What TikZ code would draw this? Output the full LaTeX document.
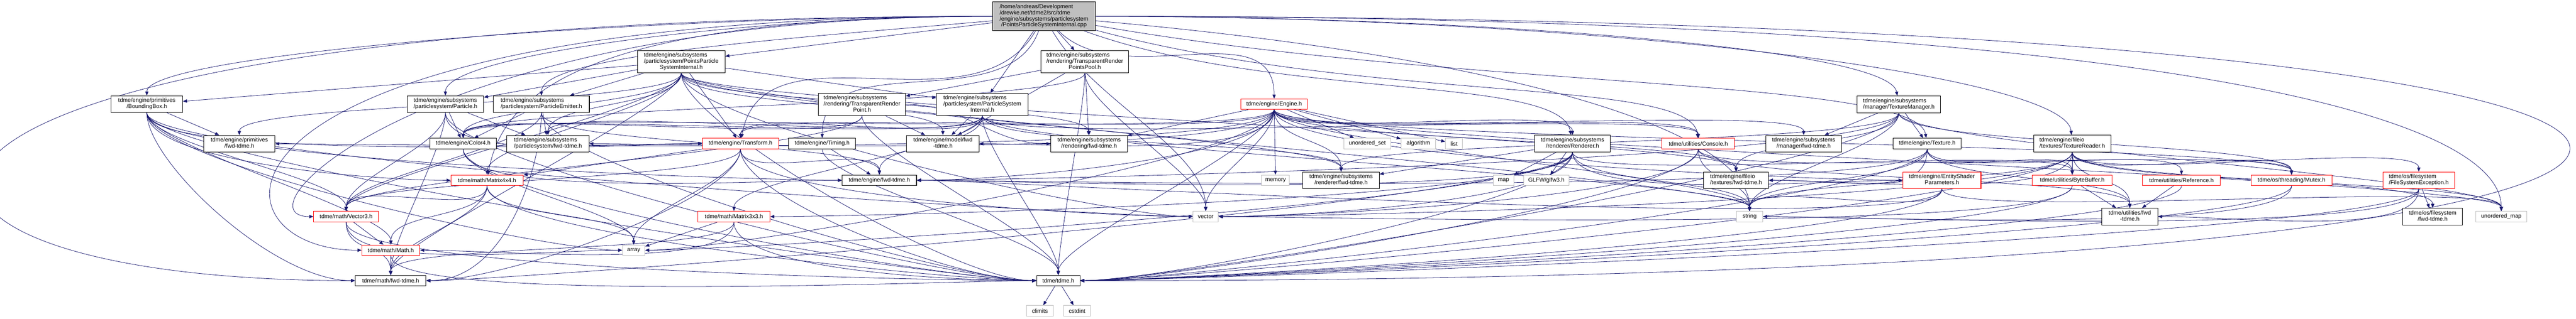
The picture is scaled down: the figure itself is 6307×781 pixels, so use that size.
\documentclass[tikz,border=0pt]{standalone}
\usepackage{fontspec}
\setmainfont{Liberation Sans}
\usetikzlibrary{arrows.meta}
\definecolor{dblue}{HTML}{191970}
\definecolor{gry}{HTML}{BFBFBF}
\definecolor{trunc}{HTML}{FF0000}
\newcommand{\nodefont}{\fontsize{1.4pt}{1.5pt}\selectfont}
\newcommand{\flab}[2]{\begin{tabular}{@{}l@{}}#1\\\multicolumn{1}{@{}c@{}}{#2}\end{tabular}}
\pgfdeclarelayer{bg}
\pgfsetlayers{bg,main}
\begin{document}
\begin{tikzpicture}[x=0.1pt,y=-0.1pt,
  hdr/.style={draw=black,fill=white,line width=0.13pt,inner sep=0pt,font=\nodefont},
  ext/.style={hdr,draw=gry},
  trc/.style={hdr,draw=trunc},
  root/.style={hdr,fill=gry},
  l1/.style={minimum height=2.6pt},
  l2/.style={minimum height=4.1pt},
  l3/.style={minimum height=5.5pt},
  l4/.style={minimum height=7pt},
  w/.style={minimum width=#1*0.1pt},
  dep/.style={draw=dblue,line width=0.1pt,-{Triangle[length=1pt,width=0.8pt]}},
  tp/.style={out=-90,in=90,out distance=8pt,in distance=8pt},
  sl/.style={out=-90,in=180,out distance=12pt,in distance=20pt},
  sr/.style={out=-90,in=0,out distance=12pt,in distance=20pt}]
\useasboundingbox (0,0) rectangle (6307,781);
\node[root,l4,w=252] (cpp) at (2556,40) {\flab{/home/andreas/Development\\/drewke.net/tdme2/src/tdme\\/engine/subsystems/particlesystem}{/PointsParticleSystemInternal.cpp}};
\node[hdr,l3,w=214] (ppsih) at (1668,151.5) {\flab{tdme/engine/subsystems\\/particlesystem/PointsParticle}{SystemInternal.h}};
\node[hdr,l3,w=214] (trpp) at (2656,151.5) {\flab{tdme/engine/subsystems\\/rendering/TransparentRender}{PointsPool.h}};
\node[hdr,l2,w=175] (bbox) at (359.5,255.5) {\flab{tdme/engine/primitives}{/BoundingBox.h}};
\node[hdr,l2,w=187] (particle) at (1090.5,255.5) {\flab{tdme/engine/subsystems}{/particlesystem/Particle.h}};
\node[hdr,l2,w=235] (emitter) at (1325.5,255.5) {\flab{tdme/engine/subsystems}{/particlesystem/ParticleEmitter.h}};
\node[hdr,l3,w=213] (trp) at (2110.5,256) {\flab{tdme/engine/subsystems\\/rendering/TransparentRender}{Point.h}};
\node[hdr,l3,w=224] (psi) at (2405,256) {\flab{tdme/engine/subsystems\\/particlesystem/ParticleSystem}{Internal.h}};
\node[trc,l1,w=163] (engine) at (3119.5,255.5) {tdme/engine/Engine.h};
\node[hdr,l2,w=204] (texmgr) at (4649,256) {\flab{tdme/engine/subsystems}{/manager/TextureManager.h}};
\node[hdr,l2,w=174] (primfwd) at (586,352.5) {\flab{tdme/engine/primitives}{/fwd-tdme.h}};
\node[hdr,l1,w=162] (color) at (1134,352) {tdme/engine/Color4.h};
\node[hdr,l2,w=201] (psfwd) at (1341.5,352.5) {\flab{tdme/engine/subsystems}{/particlesystem/fwd-tdme.h}};
\node[trc,l1,w=186] (transform) at (1813,352) {tdme/engine/Transform.h};
\node[hdr,l1,w=164] (timing) at (2013,352) {tdme/engine/Timing.h};
\node[hdr,l2,w=177] (modelfwd) at (2308.5,352.5) {\flab{tdme/engine/model/fwd}{-tdme.h}};
\node[hdr,l2,w=187] (renderingfwd) at (2666.5,352.5) {\flab{tdme/engine/subsystems}{/rendering/fwd-tdme.h}};
\node[ext,l1,w=115] (uset) at (3347.5,352) {unordered\_set};
\node[ext,l1,w=85] (algorithm) at (3472.5,352) {algorithm};
\node[ext,l1,w=42] (list) at (3560,352) {list};
\node[hdr,l2,w=186] (renderer) at (3850,352) {\flab{tdme/engine/subsystems}{/renderer/Renderer.h}};
\node[trc,l1,w=178] (console) at (4158,352) {tdme/utilities/Console.h};
\node[hdr,l2,w=186] (mgrfwd) at (4416,352.5) {\flab{tdme/engine/subsystems}{/manager/fwd-tdme.h}};
\node[hdr,l1,w=167] (texture) at (4718.5,352) {tdme/engine/Texture.h};
\node[hdr,l2,w=189] (texreader) at (5073.5,352) {\flab{tdme/engine/fileio}{/textures/TextureReader.h}};
\node[trc,l1,w=177] (matrix4) at (1192.5,442) {tdme/math/Matrix4x4.h};
\node[hdr,l1,w=182] (enginefwd) at (2153,442) {tdme/engine/fwd-tdme.h};
\node[ext,l1,w=68] (memory) at (3123,442) {memory};
\node[hdr,l2,w=187] (rendererfwd) at (3283.5,442) {\flab{tdme/engine/subsystems}{/renderer/fwd-tdme.h}};
\node[ext,l1,w=50] (map) at (3681,442) {map};
\node[ext,l1,w=110] (glfw) at (3786,442) {GLFW/glfw3.h};
\node[hdr,l2,w=159] (texfwd) at (4250.5,442) {\flab{tdme/engine/fileio}{/textures/fwd-tdme.h}};
\node[trc,l2,w=191] (esp) at (4754.5,442) {\flab{tdme/engine/EntityShader}{Parameters.h}};
\node[trc,l1,w=195] (bytebuf) at (5073.5,442) {tdme/utilities/ByteBuffer.h};
\node[trc,l1,w=190] (reference) at (5341,442) {tdme/utilities/Reference.h};
\node[trc,l1,w=199] (mutex) at (5610.5,442) {tdme/os/threading/Mutex.h};
\node[trc,l2,w=176] (fsexc) at (5922,442) {\flab{tdme/os/filesystem}{/FileSystemException.h}};
\node[trc,l1,w=159] (vector3) at (847.5,531) {tdme/math/Vector3.h};
\node[trc,l1,w=176] (matrix3) at (1797,531) {tdme/math/Matrix3x3.h};
\node[ext,l1,w=62] (vector) at (2952,531) {vector};
\node[ext,l1,w=65] (string) at (4283.5,531) {string};
\node[hdr,l2,w=137] (utilfwd) at (5214.5,531) {\flab{tdme/utilities/fwd}{-tdme.h}};
\node[hdr,l2,w=146] (fsfwd) at (5956,531) {\flab{tdme/os/filesystem}{/fwd-tdme.h}};
\node[ext,l1,w=124] (umap) at (6124,531) {unordered\_map};
\node[trc,l1,w=142] (math) at (957,613.5) {tdme/math/Math.h};
\node[ext,l1,w=55] (array) at (1551.5,613.5) {array};
\node[hdr,l1,w=173] (mathfwd) at (956.5,688) {tdme/math/fwd-tdme.h};
\node[hdr,l1,w=106] (tdmeh) at (2591,688) {tdme/tdme.h};
\node[ext,l1,w=66] (climits) at (2546,762) {climits};
\node[ext,l1,w=66] (cstdint) at (2637,762) {cstdint};
\begin{pgfonlayer}{bg}
\fill[white] (0,0) rectangle (6307,781);
\draw[dep] (cpp) -- (ppsih);
\draw[dep] (cpp) -- (trpp);
\draw[dep] (cpp) -- (psi);
\draw[dep] (cpp) to[out=-45,in=90] (engine);
\draw[dep] (cpp) to[out=180,in=90,out distance=90pt,in distance=10pt] (bbox);
\draw[dep] (cpp) to[out=180,in=90,out distance=60pt,in distance=10pt] (particle);
\draw[dep] (cpp) to[out=185,in=90,out distance=50pt,in distance=10pt] (emitter);
\draw[dep] (cpp) to[out=-120,in=80] (transform);
\draw[dep] (cpp) to[out=-110,in=90] (timing);
\draw[dep] (cpp) to[out=-20,in=100,out distance=50pt,in distance=15pt] (renderer);
\draw[dep] (cpp) to[out=0,in=100,out distance=90pt,in distance=12pt] (texmgr);
\draw[dep] (cpp) to[out=-10,in=100,out distance=90pt,in distance=15pt] (texture);
\draw[dep] (cpp) to[out=0,in=95,out distance=120pt,in distance=15pt] (texreader);
\draw[dep] (cpp) to[out=-15,in=95,out distance=70pt,in distance=15pt] (console);
\draw[dep] (cpp) to[out=180,in=80,out distance=100pt,in distance=20pt] (matrix4);
\draw[dep] (cpp) to[out=180,in=180,out distance=140pt,in distance=20pt] (vector3);
\draw[dep] (cpp) to[out=180,in=180,out distance=200pt,in distance=40pt] (math);
\draw[dep] (cpp) to[out=-5,in=90,out distance=100pt,in distance=20pt] (string);
\draw[dep] (cpp) to[out=-60,in=90,out distance=20pt,in distance=15pt] (vector);
\draw[dep] (cpp) to[out=0,in=90,out distance=250pt,in distance=25pt] (umap);
\draw[dep] (cpp) .. controls (7500,40) and (7500,690) .. (tdmeh);
\draw[dep] (cpp) .. controls (-540,40) and (-540,688) .. (mathfwd);
\draw[dep] (ppsih) -- (particle);
\draw[dep] (ppsih) -- (emitter);
\draw[dep] (ppsih) -- (psi);
\draw[dep] (ppsih) -- (bbox);
\draw[dep] (ppsih) -- (transform);
\draw[dep] (ppsih) to[tp] (primfwd);
\draw[dep] (ppsih) to[tp] (color);
\draw[dep] (ppsih) to[tp] (psfwd);
\draw[dep] (ppsih) to[tp] (modelfwd);
\draw[dep] (ppsih) to[tp] (renderingfwd);
\draw[dep] (ppsih) to[tp] (rendererfwd);
\draw[dep] (ppsih) to[tp] (texfwd);
\draw[dep] (ppsih) to[tp] (matrix4);
\draw[dep] (ppsih) to[tp] (vector3);
\draw[dep] (ppsih) to[tp] (mathfwd);
\draw[dep] (ppsih) to[sl] (vector);
\draw[dep] (ppsih) to[tp] (string);
\draw[dep] (ppsih) to[sl] (tdmeh);
\draw[dep] (trpp) -- (trp);
\draw[dep] (trpp) -- (renderingfwd);
\draw[dep] (trpp) -- (modelfwd);
\draw[dep] (trpp) to[tp] (color);
\draw[dep] (trpp) to[tp] (vector);
\draw[dep] (trpp) to[tp] (tdmeh);
\draw[dep] (bbox) -- (primfwd);
\draw[dep] (bbox) to[sl] (matrix4);
\draw[dep] (bbox) to[tp] (vector3);
\draw[dep] (bbox) to[sl] (transform);
\draw[dep] (bbox) to[sl] (enginefwd);
\draw[dep] (bbox) to[sl] (mathfwd);
\draw[dep] (bbox) to[sl] (array);
\draw[dep] (bbox) to[tp] (math);
\draw[dep] (bbox) to[sl] (vector);
\draw[dep] (bbox) to[sl] (tdmeh);
\draw[dep] (particle) -- (color);
\draw[dep] (particle) -- (psfwd);
\draw[dep] (particle) to[sl] (transform);
\draw[dep] (particle) to[tp] (vector3);
\draw[dep] (particle) to[tp] (mathfwd);
\draw[dep] (particle) to[sl] (tdmeh);
\draw[dep] (emitter) -- (color);
\draw[dep] (emitter) -- (psfwd);
\draw[dep] (emitter) to[tp] (vector3);
\draw[dep] (emitter) to[tp] (enginefwd);
\draw[dep] (emitter) to[sr] (mathfwd);
\draw[dep] (emitter) to[sl] (tdmeh);
\draw[dep] (trp) -- (modelfwd);
\draw[dep] (trp) to[out=0,in=180] (renderingfwd);
\draw[dep] (trp) to[tp] (color);
\draw[dep] (trp) to[tp] (vector3);
\draw[dep] (trp) to[tp] (tdmeh);
\draw[dep] (psi) -- (modelfwd);
\draw[dep] (psi) to[tp] (psfwd);
\draw[dep] (psi) to[tp] (color);
\draw[dep] (psi) to[tp] (rendererfwd);
\draw[dep] (psi) to[tp] (transform);
\draw[dep] (psi) to[tp] (enginefwd);
\draw[dep] (psi) to[tp] (matrix3);
\draw[dep] (psi) to[tp] (string);
\draw[dep] (psi) to[tp] (console);
\draw[dep] (psi) to[tp] (tdmeh);
\draw[dep] (engine) -- (uset);
\draw[dep] (engine) -- (algorithm);
\draw[dep] (engine) -- (list);
\draw[dep] (engine) -- (memory);
\draw[dep] (engine) -- (renderingfwd);
\draw[dep] (engine) to[tp] (renderer);
\draw[dep] (engine) to[tp] (console);
\draw[dep] (engine) to[tp] (mgrfwd);
\draw[dep] (engine) to[tp] (color);
\draw[dep] (engine) to[sr] (psfwd);
\draw[dep] (engine) to[tp] (transform);
\draw[dep] (engine) to[sr] (modelfwd);
\draw[dep] (engine) to[sr] (primfwd);
\draw[dep] (engine) to[sr] (enginefwd);
\draw[dep] (engine) to[tp] (rendererfwd);
\draw[dep] (engine) to[tp] (texfwd);
\draw[dep] (engine) to[sl] (esp);
\draw[dep] (engine) to[tp] (mutex);
\draw[dep] (engine) to[tp] (umap);
\draw[dep] (engine) to[sr] (array);
\draw[dep] (engine) to[tp] (vector);
\draw[dep] (engine) to[tp] (string);
\draw[dep] (engine) to[tp] (tdmeh);
\draw[dep] (texmgr) -- (mgrfwd);
\draw[dep] (texmgr) -- (texture);
\draw[dep] (texmgr) to[tp] (texfwd);
\draw[dep] (texmgr) to[tp] (rendererfwd);
\draw[dep] (texmgr) to[sr] (enginefwd);
\draw[dep] (texmgr) to[tp] (string);
\draw[dep] (texmgr) to[tp] (mutex);
\draw[dep] (texmgr) to[tp] (umap);
\draw[dep] (texmgr) to[sr] (tdmeh);
\draw[dep] (renderer) -- (rendererfwd);
\draw[dep] (renderer) -- (map);
\draw[dep] (renderer) -- (glfw);
\draw[dep] (renderer) to[sr] (matrix3);
\draw[dep] (renderer) to[sr] (enginefwd);
\draw[dep] (renderer) to[sr] (mathfwd);
\draw[dep] (renderer) to[sr] (array);
\draw[dep] (renderer) to[sl] (esp);
\draw[dep] (renderer) to[tp] (bytebuf);
\draw[dep] (renderer) to[sr] (vector);
\draw[dep] (renderer) to[tp] (string);
\draw[dep] (renderer) to[sr] (tdmeh);
\draw[dep] (console) to[tp] (string);
\draw[dep] (console) to[sr] (vector);
\draw[dep] (console) to[tp] (utilfwd);
\draw[dep] (console) to[tp] (mutex);
\draw[dep] (console) to[sr] (tdmeh);
\draw[dep] (texture) to[sr] (texfwd);
\draw[dep] (texture) to[tp] (bytebuf);
\draw[dep] (texture) to[tp] (reference);
\draw[dep] (texture) to[sr] (enginefwd);
\draw[dep] (texture) to[tp] (string);
\draw[dep] (texture) to[tp] (utilfwd);
\draw[dep] (texture) to[sr] (tdmeh);
\draw[dep] (texreader) -- (bytebuf);
\draw[dep] (texreader) to[sr] (texfwd);
\draw[dep] (texreader) to[tp] (mutex);
\draw[dep] (texreader) to[tp] (fsexc);
\draw[dep] (texreader) to[tp] (umap);
\draw[dep] (texreader) to[tp] (fsfwd);
\draw[dep] (texreader) to[tp] (utilfwd);
\draw[dep] (texreader) to[tp] (string);
\draw[dep] (texreader) to[sr] (vector);
\draw[dep] (texreader) to[sr] (tdmeh);
\draw[dep] (color) to[tp] (array);
\draw[dep] (color) to[sl] (enginefwd);
\draw[dep] (color) to[sl] (tdmeh);
\draw[dep] (transform) -- (matrix4);
\draw[dep] (transform) to[tp] (vector3);
\draw[dep] (transform) to[tp] (enginefwd);
\draw[dep] (transform) to[tp] (array);
\draw[dep] (transform) to[sr] (mathfwd);
\draw[dep] (transform) to[sl] (vector);
\draw[dep] (transform) to[sl] (tdmeh);
\draw[dep] (timing) -- (enginefwd);
\draw[dep] (timing) to[tp] (tdmeh);
\draw[dep] (matrix4) to[tp] (vector3);
\draw[dep] (matrix4) to[tp] (math);
\draw[dep] (matrix4) to[tp] (mathfwd);
\draw[dep] (matrix4) to[tp] (array);
\draw[dep] (matrix4) to[sl] (tdmeh);
\draw[dep] (esp) to[tp] (string);
\draw[dep] (esp) to[tp] (umap);
\draw[dep] (esp) to[sr] (tdmeh);
\draw[dep] (esp) to[sr] (enginefwd);
\draw[dep] (bytebuf) -- (utilfwd);
\draw[dep] (bytebuf) to[sr] (vector);
\draw[dep] (bytebuf) to[sr] (tdmeh);
\draw[dep] (reference) -- (utilfwd);
\draw[dep] (reference) to[sr] (tdmeh);
\draw[dep] (mutex) to[sr] (tdmeh);
\draw[dep] (mutex) to[sr] (string);
\draw[dep] (fsexc) to[sr] (utilfwd);
\draw[dep] (fsexc) -- (fsfwd);
\draw[dep] (fsexc) to[sr] (tdmeh);
\draw[dep] (fsexc) to[sr] (string);
\draw[dep] (vector3) -- (math);
\draw[dep] (vector3) to[tp] (mathfwd);
\draw[dep] (vector3) to[sl] (array);
\draw[dep] (vector3) to[sl] (tdmeh);
\draw[dep] (matrix3) to[sr] (math);
\draw[dep] (matrix3) -- (array);
\draw[dep] (matrix3) to[tp] (mathfwd);
\draw[dep] (matrix3) to[sl] (tdmeh);
\draw[dep] (math) -- (mathfwd);
\draw[dep] (math) to[sl] (tdmeh);
\draw[dep] (tdmeh) -- (climits);
\draw[dep] (tdmeh) -- (cstdint);
\end{pgfonlayer}
\end{tikzpicture}
\end{document}
